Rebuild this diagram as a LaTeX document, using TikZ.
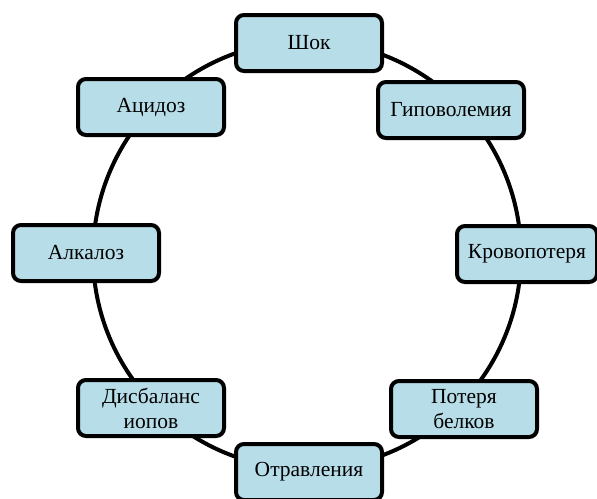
\documentclass[tikz,border=0pt]{standalone}
\usepackage{fontspec}
\setmainfont{Liberation Serif}
\usepackage{xcolor}
\usetikzlibrary{positioning}
\definecolor{boxblue}{RGB}{183,221,232}

\begin{document}
\begin{tikzpicture}[
    x=1pt, y=-1pt,
    cause/.style={draw, line width=4pt, rounded corners=8pt, fill=boxblue, minimum width=146pt, minimum height=56pt, align=center, inner sep=2pt, font=\fontsize{21.5}{25}\selectfont},
    ring/.style={draw, circle, line width=4pt, minimum size=428pt, inner sep=0pt}
]
\useasboundingbox (0,0) rectangle (597,498);
\node[ring] (ring) at (307,255) {};

\node[cause] (shock) at (309,43) {Шок};
\node[cause] (hypo) at (451,110) {Гиповолемия};
\node[cause, minimum width=140pt] (blood) at (527,254) {Кровопотеря};
\node[cause] (protein) at (464,409) {Потеря\\белков};
\node[cause] (poison) at (309,472) {Отравления};
\node[cause] (ions) at (151,408) {Дисбаланс\\иопов};
\node[cause] (alka) at (86,253) {Алкалоз};
\node[cause] (acid) at (151,107) {Ацидоз};
\end{tikzpicture}
\end{document}
